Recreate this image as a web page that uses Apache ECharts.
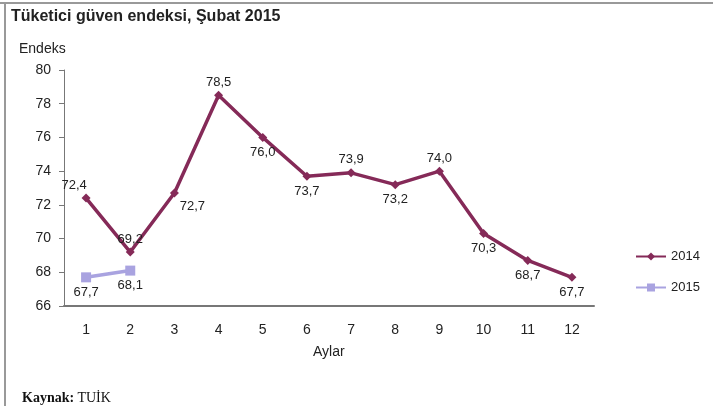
<!DOCTYPE html>
<html>
<head>
<meta charset="utf-8">
<script src="https://cdn.jsdelivr.net/npm/echarts@6/dist/echarts.min.js"></script>
<style>
  html, body { margin: 0; padding: 0; background: #fff; }
  #chart { width: 713px; height: 406px; }
</style>
</head>
<body>
<div id="chart"></div>
<script>
const months = ['1', '2', '3', '4', '5', '6', '7', '8', '9', '10', '11', '12'];
const values2014 = [72.4, 69.2, 72.7, 78.5, 76.0, 73.7, 73.9, 73.2, 74.0, 70.3, 68.7, 67.7];
const values2015 = [67.7, 68.1];
const yTicks = [66, 68, 70, 72, 74, 76, 78, 80];

// where each value label sits relative to its point
const labelPos2014 = [[-12, -13], [0, -13], [18, 13], [0, -13], [0, 15], [0, 15], [0, -13], [0, 15], [0, -13], [0, 15], [0, 15], [0, 15]];
const labelPos2015 = [[0, 15], [0, 15]];

const fmt = v => v.toFixed(1).replace('.', ',');

const chart = echarts.init(document.getElementById('chart'));

const buildData = (vals, offsets) => vals.map((v, i) => ({
    value: v,
    label: {offset: offsets[i]}
}));

chart.setOption({
    animation: false,
    textStyle: {fontFamily: 'Liberation Sans, Arial, sans-serif'},
    grid: {left: 64, right: 119, top: 70, bottom: 100},
    graphic: [
        {type: 'rect', shape: {x: 0, y: 2, width: 713, height: 2}, style: {fill: '#999'}},
        {type: 'rect', shape: {x: 4, y: 2, width: 2, height: 404}, style: {fill: '#999'}},
        {type: 'text', left: 11, top: 9, style: {text: 'Tüketici güven endeksi, Şubat 2015', font: 'bold 16px Liberation Sans, Arial', fill: '#222'}},
        {type: 'text', left: 19, top: 42, style: {text: 'Endeks', font: '14px Liberation Sans, Arial', fill: '#222'}},
        {type: 'text', left: 313, top: 345, style: {text: 'Aylar', font: '14px Liberation Sans, Arial', fill: '#222'}},
        {type: 'text', left: 22, top: 391, style: {
            text: '{b|Kaynak:} {n|TUİK}',
            rich: {
                b: {font: 'bold 14px Liberation Serif, Times New Roman', fill: '#111'},
                n: {font: '14px Liberation Serif, Times New Roman', fill: '#111'}
            }
        }}
    ],
    legend: {
        orient: 'vertical',
        left: 630,
        top: 245,
        itemGap: 18,
        itemWidth: 30,
        itemHeight: 10,
        textStyle: {fontSize: 13, color: '#222'},
        data: ['2014', '2015']
    },
    xAxis: {
        type: 'category',
        data: months,
        boundaryGap: true,
        axisLine: {lineStyle: {color: '#777', width: 2}},
        axisTick: {show: false},
        axisLabel: {fontSize: 14, color: '#222', margin: 17}
    },
    yAxis: {
        type: 'value',
        min: yTicks[0],
        max: yTicks[yTicks.length - 1],
        interval: 2,
        axisLine: {show: true, lineStyle: {color: '#777', width: 1}},
        axisTick: {show: true, length: 5, lineStyle: {color: '#777'}},
        axisLabel: {fontSize: 14, color: '#222', margin: 13},
        splitLine: {show: false}
    },
    series: [
        {
            name: '2014',
            type: 'line',
            data: buildData(values2014, labelPos2014),
            symbol: 'diamond',
            symbolSize: 9,
            lineStyle: {color: '#852a58', width: 3.5},
            itemStyle: {color: '#852a58'},
            label: {show: true, position: 'inside', fontSize: 13, color: '#222', formatter: p => fmt(p.value)}
        },
        {
            name: '2015',
            type: 'line',
            data: buildData(values2015, labelPos2015),
            symbol: 'rect',
            symbolSize: 10,
            lineStyle: {color: '#a9a3e0', width: 3.5},
            itemStyle: {color: '#a9a3e0'},
            label: {show: true, position: 'inside', fontSize: 13, color: '#222', formatter: p => fmt(p.value)}
        }
    ]
});
</script>
</body>
</html>
